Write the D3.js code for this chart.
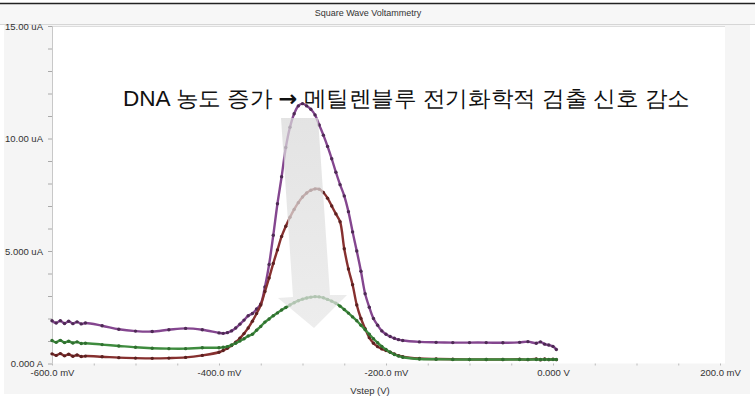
<!DOCTYPE html>
<html><head><meta charset="utf-8">
<script src="https://cdn.jsdelivr.net/npm/d3@7/dist/d3.min.js"></script>
<style>
body{margin:0;background:#fff;}
text{font-family:"Liberation Sans",Arial,sans-serif;}
</style></head>
<body>
<svg id="c" width="755" height="400"></svg>
<script>
// ---- data ----
const voltages = [-600,-595,-590,-585,-580,-575,-570,-565,-560,
  -540,-520,-500,-480,-460,-440,-420,
  -400,-395,-390,-385,-380,-375,-370,-365,-360,-355,-350,-345,-340,-335,-330,-325,-320,-315,-310,-305,-300,-295,-290,-285,-280,-275,-270,-265,-260,-255,-250,-245,-240,-235,-230,-225,-220,-215,-210,-205,-200,-195,-190,-185,-180,
  -160,-140,-120,-100,-80,-60,-40,-30,-20,-15,-10,-5,0,4];
const purpleSeries = [1.9,1.8,1.9,1.78,1.88,1.77,1.85,1.76,1.8,
  1.68,1.52,1.44,1.42,1.5,1.56,1.5,
  1.36,1.34,1.37,1.45,1.58,1.75,1.93,2.12,2.22,2.42,2.65,3.4,4.4,5.7,7.1,8.3,9.6,10.5,11.1,11.45,11.55,11.45,11.3,11.05,10.6,10.15,9.65,9.1,8.5,7.95,7.45,6.75,5.85,5.0,4.1,3.1,2.5,2.0,1.7,1.45,1.3,1.2,1.12,1.06,1.02,
  0.96,0.94,0.93,0.93,0.93,0.92,0.94,0.97,0.9,0.96,0.86,0.82,0.76,0.62];
const redSeries = [0.43,0.36,0.44,0.34,0.41,0.32,0.38,0.31,0.33,
  0.3,0.26,0.24,0.23,0.24,0.27,0.36,
  0.5,0.58,0.68,0.8,0.95,1.12,1.33,1.58,1.88,2.22,2.6,3.2,3.8,4.45,5.05,5.65,6.1,6.5,6.85,7.15,7.4,7.58,7.7,7.76,7.75,7.6,7.35,7.0,6.65,6.3,5.1,4.2,3.5,2.6,2.0,1.55,1.15,0.9,0.75,0.65,0.58,0.5,0.42,0.35,0.3,
  0.22,0.2,0.19,0.18,0.18,0.18,0.19,0.17,0.2,0.16,0.2,0.17,0.19,0.17];
const greenSeries = [1.02,0.94,1.03,0.93,0.99,0.91,0.96,0.89,0.9,
  0.84,0.78,0.72,0.68,0.66,0.66,0.7,
  0.7,0.72,0.75,0.82,0.9,1.0,1.1,1.22,1.3,1.48,1.65,1.84,1.98,2.12,2.25,2.38,2.49,2.6,2.7,2.79,2.86,2.91,2.95,2.97,2.96,2.92,2.85,2.77,2.68,2.55,2.4,2.24,2.07,1.9,1.7,1.5,1.3,1.1,0.92,0.76,0.62,0.5,0.4,0.33,0.28,
  0.2,0.19,0.18,0.18,0.18,0.18,0.18,0.18,0.18,0.18,0.18,0.18,0.18,0.18];
const xTickValues = [-600,-400,-200,0,200];
const xTickLabels = ["-600.0 mV","-400.0 mV","-200.0 mV","0.000 V","200.0 mV"];
const yTickValues = [0,5,10,15];
const yTickLabels = ["0.000 A","5.000 uA","10.00 uA","15.00 uA"];
const chartTitle = "Square Wave Voltammetry";
const xAxisTitle = "Vstep (V)";
const annotationParts = ["DNA 농도 증가 ", "→", " 메틸렌블루 전기화학적 검출 신호 감소"];

const series = [
  {name:"purple", values:purpleSeries, line:"#84468f", dot:"#4e2a55"},
  {name:"red", values:redSeries, line:"#86302f", dot:"#5c2020"},
  {name:"green", values:greenSeries, line:"#3f8c3f", dot:"#2f6f2f"}
];

const svg = d3.select("#c");
const W=755,H=400;
const L=52,R=720,T=26,B=363.5;
const x = d3.scaleLinear().domain([-600,200]).range([L,R]);
const y = d3.scaleLinear().domain([0,15]).range([B,T]);

// frame
svg.append("rect").attr("x",0).attr("y",0).attr("width",W).attr("height",H).attr("fill","#fff");
svg.append("rect").attr("x",4).attr("y",4).attr("width",746).attr("height",390).attr("fill","#f5f5f5");
svg.append("rect").attr("x",0).attr("y",4).attr("width",W).attr("height",20).attr("fill","#f7f7f7");
svg.append("line").attr("x1",0).attr("x2",W).attr("y1",3.5).attr("y2",3.5).attr("stroke","#222").attr("stroke-width",1.5);
svg.append("line").attr("x1",0).attr("x2",W).attr("y1",24.5).attr("y2",24.5).attr("stroke","#d6d6d6");
svg.append("text").attr("x",368).attr("y",16).attr("text-anchor","middle").attr("font-size",9).attr("fill","#333").text(chartTitle);

// plot area
svg.append("rect").attr("x",L).attr("y",T).attr("width",725-L).attr("height",B-T).attr("fill","#fff");
svg.append("line").attr("x1",L).attr("x2",725).attr("y1",T+0.5).attr("y2",T+0.5).attr("stroke","#ddd");
svg.append("line").attr("x1",L+0.5).attr("x2",L+0.5).attr("y1",T).attr("y2",B).attr("stroke","#c8c8c8");

// y axis
const yAxis = d3.axisLeft(y).tickValues(d3.range(0,16,1)).tickSize(4).tickFormat(d=>{const i=yTickValues.indexOf(d);return i>=0?yTickLabels[i]:"";});
const gy = svg.append("g").attr("transform",`translate(${L},0)`).call(yAxis);
gy.select(".domain").remove();
gy.selectAll(".tick line").attr("stroke","#aaa");
gy.selectAll(".tick text").attr("font-size",9.5).attr("fill","#333").attr("x",-9).attr("font-family","Liberation Sans, Arial, sans-serif");

// x axis
const xAxis = d3.axisBottom(x).tickValues(d3.range(-600,201,50)).tickSize(2).tickFormat(d=>{const i=xTickValues.indexOf(d);return i>=0?xTickLabels[i]:"";});
const gx = svg.append("g").attr("transform",`translate(0,${B})`).call(xAxis);
gx.select(".domain").remove();
gx.selectAll(".tick line").attr("stroke","#bbb");
gx.selectAll(".tick text").attr("font-size",9.5).attr("fill","#333").attr("y",6).attr("font-family","Liberation Sans, Arial, sans-serif");
svg.append("text").attr("x",370).attr("y",394).attr("text-anchor","middle").attr("font-size",9.5).attr("fill","#333").text(xAxisTitle);

// series
const line = d3.line().x((d,i)=>x(voltages[i])).y(d=>y(d)).curve(d3.curveCatmullRom.alpha(0.5));
series.forEach(s=>{
  svg.append("path").datum(s.values).attr("d",line).attr("fill","none").attr("stroke",s.line).attr("stroke-width",2.4);
  svg.append("g").selectAll("circle").data(s.values).join("circle")
    .attr("cx",(d,i)=>x(voltages[i])).attr("cy",d=>y(d)).attr("r",1.7).attr("fill",s.dot);
});

// big arrow overlay
const defs = svg.append("defs");
const gr = defs.append("linearGradient").attr("id","ag").attr("x1",0).attr("y1",0).attr("x2",0).attr("y2",1);
gr.append("stop").attr("offset","0%").attr("stop-color","#d9d9d9");
gr.append("stop").attr("offset","100%").attr("stop-color","#e6e6e6");
const arrowPts = [[281,118],[318,118],[330,295],[347,295],[314,328],[278,298],[293,297]];
svg.append("path").attr("d",d3.line()(arrowPts)+"Z").attr("fill","url(#ag)").attr("opacity",0.72);

// annotation
const ann = svg.append("text").attr("x",123).attr("y",106).attr("font-size",22).attr("fill","#111")
  .attr("font-family","'Noto Sans CJK KR','Noto Sans',sans-serif")
  .attr("textLength",567).attr("lengthAdjust","spacingAndGlyphs");
ann.append("tspan").text(annotationParts[0]);
ann.append("tspan").attr("font-family","'DejaVu Sans',sans-serif").attr("font-weight","bold").text(annotationParts[1]);
ann.append("tspan").text(annotationParts[2]);
</script>
</body></html>
